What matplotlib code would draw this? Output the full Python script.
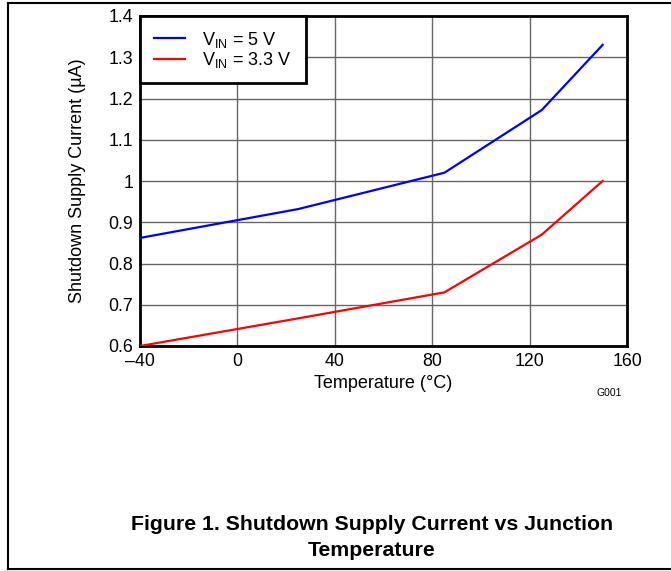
import matplotlib
matplotlib.use("Agg")
import matplotlib.pyplot as plt
from matplotlib.lines import Line2D

plt.rcParams['font.family'] = ['Liberation Sans', 'DejaVu Sans']
plt.rcParams['mathtext.fontset'] = 'custom'
plt.rcParams['mathtext.rm'] = 'Liberation Sans'
plt.rcParams['mathtext.it'] = 'Liberation Sans'

# data
temp = [-40, 25, 85, 125, 150]
i_5v = [0.862, 0.932, 1.02, 1.172, 1.33]
i_33v = [0.600, 0.667, 0.730, 0.870, 1.000]
xticks = [-40, 0, 40, 80, 120, 160]
xlabels = ['\u201340', '0', '40', '80', '120', '160']
yticks = [0.6, 0.7, 0.8, 0.9, 1.0, 1.1, 1.2, 1.3, 1.4]
ylabels = ['0.6', '0.7', '0.8', '0.9', '1', '1.1', '1.2', '1.3', '1.4']

fig = plt.figure(figsize=(6.71, 5.71), dpi=100)
ax = fig.add_axes([140/671, 1-346/571, 487/671, 330/571])

ax.plot(temp, i_5v, color='#0000ff', lw=1.6, label='V$_{\\mathrm{IN}}$ = 5 V', zorder=3)
ax.plot(temp, i_33v, color='#ff0000', lw=1.6, label='V$_{\\mathrm{IN}}$ = 3.3 V', zorder=3)

ax.set_xlim(-40, 160)
ax.set_ylim(0.6, 1.4)
ax.set_xticks(xticks)
ax.set_xticklabels(xlabels)
ax.set_yticks(yticks)
ax.set_yticklabels(ylabels)
ax.tick_params(length=0, labelsize=12.8, pad=5)
ax.grid(True, color='#666666', lw=1.0)
for s in ax.spines.values():
    s.set_linewidth(2)
    s.set_color('black')

ax.set_xlabel('Temperature (\u00b0C)', fontsize=13, labelpad=4)
ax.set_ylabel('Shutdown Supply Current (\u00b5A)', fontsize=13, labelpad=16)

leg = ax.legend(loc='upper left', fontsize=13, handlelength=1.75, borderaxespad=0,
                fancybox=False, framealpha=1, edgecolor='black', borderpad=0.75,
                labelspacing=0.02, handletextpad=0.95)
leg.get_frame().set_linewidth(2)

fig.text(609/671, 1-393/571, 'G001', fontsize=7.5, ha='center', va='center')
fig.text(372/671, 1-524/571, 'Figure 1. Shutdown Supply Current vs Junction',
         fontsize=15.3, fontweight='bold', ha='center', va='center')
fig.text(372/671, 1-550/571, 'Temperature',
         fontsize=15.3, fontweight='bold', ha='center', va='center')

# page frame
fig.add_artist(Line2D([8/671, 1], [1-3/571, 1-3/571], color='black', lw=1.5))
fig.add_artist(Line2D([8/671, 8/671], [1-3/571, 1-569/571], color='black', lw=1.5))
fig.add_artist(Line2D([8/671, 1], [1-569/571, 1-569/571], color='black', lw=1.5))

fig.savefig('out.png', dpi=100)
